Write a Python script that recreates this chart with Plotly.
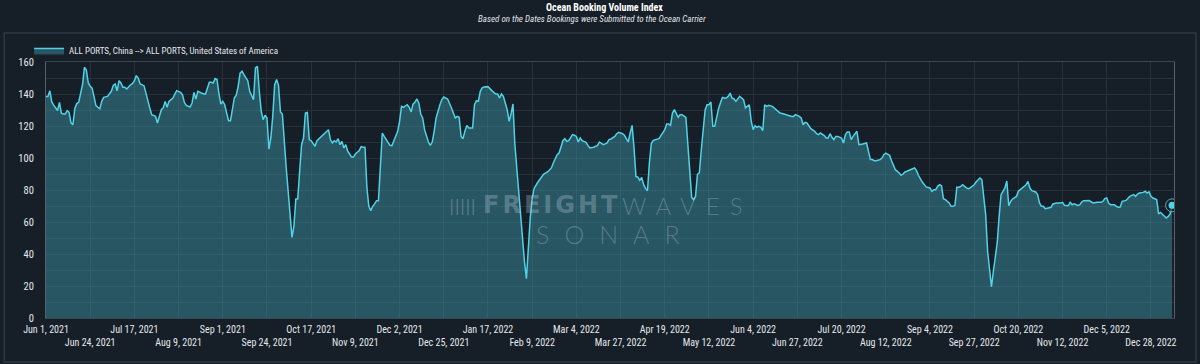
import pandas as pd
import plotly.graph_objects as go

# ---------------- data ----------------
start_date = "2021-06-01"
series_name = "ALL PORTS, China --> ALL PORTS, United States of America"

day_offset = [
    0, 1, 2, 3, 4, 5, 6, 7, 8, 9, 10, 11, 12, 13, 14, 15, 16, 17, 18, 19, 20, 21, 22, 23, 24, 25, 26, 27, 28, 29, 30,
    32, 33, 34, 35, 36, 37, 38, 39, 40, 41, 42, 44, 45, 46, 47, 48, 49, 51, 52, 53, 54, 55, 56, 57, 58, 59, 60,
    61, 62, 63, 64, 66, 67, 68, 70, 71, 72, 73, 75, 76, 77, 78, 79, 80, 82, 83, 84, 85, 86, 87, 88, 89, 90,
    91, 92, 93, 94, 95, 96, 97, 98, 99, 100, 101, 102, 103, 105, 106, 107, 108, 109, 110, 111, 112, 113, 114,
    115, 116, 117, 118, 119, 120, 121, 122, 123, 125, 128, 129, 130, 131, 132, 133, 134, 135, 136, 137, 138,
    139, 140, 141, 142, 144, 145, 146, 147, 148, 149, 150, 151, 152, 153, 154, 155, 156, 157, 158, 159, 160,
    161, 163, 164, 165, 166, 167, 168, 169, 170, 171, 172, 173, 174, 175, 176, 178, 179, 180, 181, 183, 184,
    185, 186, 188, 189, 190,
    191, 192, 193, 194, 195, 196, 197, 199, 200, 201, 202, 203, 205, 206, 207, 208, 209, 211, 212, 213, 214,
    215, 216, 217, 218, 219, 220, 222, 223, 224, 225, 226, 227, 228, 230, 231, 232, 233, 234, 235, 236, 237,
    238, 240, 241, 242, 243, 244, 246, 248, 249, 250, 251, 252, 253, 254, 256, 257, 258, 259, 261, 262, 263,
    264, 266, 267, 268, 269, 270, 271, 272, 274, 275, 276, 277, 278, 279, 281, 282, 283, 285, 286, 287, 288,
    290, 291, 292, 293, 294, 296, 297, 298, 300, 301, 302, 303, 304, 305, 306, 307, 308, 309, 310, 311, 312,
    313, 314, 315, 316, 317, 318, 319, 320, 322, 323, 324, 325, 326, 327, 328, 329, 330, 331, 333, 334, 335,
    336, 337, 338, 339, 340, 341, 342, 343, 344, 345, 346, 347, 348, 349, 350, 351, 352, 353, 354, 355, 356,
    357, 358, 359, 360, 361, 362, 363, 364, 365, 366, 367, 368, 369, 370, 371, 372, 373, 374, 375, 376, 378,
    379, 380, 381, 382, 384, 385, 386, 388, 389, 390, 392,
    393, 394, 395, 396, 397, 398, 400, 401, 402, 403, 405, 406, 407, 408, 409, 410, 411, 412, 414, 415, 416,
    417, 418, 419, 420, 422, 423, 424, 425, 427, 428, 429, 430, 431, 432, 434, 435, 436, 437, 439, 440, 441,
    442, 444, 445, 446, 447, 448, 449, 451, 452, 453, 454, 455, 456, 458, 459, 460, 461, 462, 463, 464, 465,
    466, 467, 468, 470, 471, 472, 473, 474, 475, 476, 477, 479, 480, 481, 483, 484, 485, 486, 487, 489, 490,
    491, 492, 493, 495, 496, 497, 499, 500, 501, 502, 503, 505, 506, 507, 508, 509, 510, 511, 512, 513, 515,
    516, 517, 518, 519, 520, 522, 523, 524, 526, 528, 529, 530, 532, 533, 534, 535, 537, 538, 539, 540, 542,
    543, 544, 545, 547, 549, 550, 551, 552, 553, 554, 556, 557, 558, 559, 560, 562, 563, 564, 566, 567, 568,
    569, 571, 572, 573, 574, 575, 576, 578, 579, 580, 581, 582, 583, 584, 585, 586,
]

booking_index = [
    138.5, 138.5, 142, 135, 133, 131.5, 129.7, 134.8, 128, 127.5, 127.5, 129.6, 128.5, 122, 120.8, 131, 134,
    134.8, 139.6, 145.8, 156.7, 155, 146.9, 144.8, 143.7, 137.5, 132.7, 131.7, 130.8, 135.4, 137.9,
    138.5, 140.2, 141.7, 145.4, 146.3, 142, 148.3, 146.9, 144.2, 144.2, 143.1, 145.8, 146.5, 148.3, 151.5,
    150, 146.3, 145.2, 140, 135.4, 131.3, 127.1, 126.5, 126, 121.9, 127.1, 130.2,
    131.3, 135.4, 131.7, 135.4, 137.5, 140, 142.1, 141, 139.6, 134.8, 132.9, 131.9, 134.4, 141, 136.9, 141.7,
    141, 140, 140, 143.7, 147.3, 147.3, 146.9, 149.6, 149, 140,
    133.7, 135.4, 133.3, 128.1, 123.3, 123.3, 131.3, 137.5, 139.2, 144.8, 153.1, 154.2, 152.1, 148.3, 141.7,
    139.2, 136.5, 156.3, 157.3, 141.7, 129.2, 124, 126.7,
    125, 105.6, 112.5, 126, 145.8, 149, 145.4, 128.8, 127.5, 94, 50.4, 57.3, 74.4, 74.4, 91.7, 108.3, 112.5,
    128.1, 128.5, 111.5, 110.8,
    109.4, 107.3, 110.8, 111.9, 114.6, 115.6, 116.3, 117.7, 111.5, 109.4, 110.8, 110, 112.1, 108.3, 110.4,
    106.3, 108.3, 104.2, 102.5, 100.6, 100.6,
    102.5, 104.6, 107.1, 106.7, 106.7, 81.3, 69.8, 67.1, 69.8, 71.3, 73.3, 73.3, 93.8, 115.6, 113.5, 110,
    107.9, 107.7, 110.8, 116.7, 122.9,
    132.3, 131.7, 133.3, 131.7, 128.8,
    133.7, 134.8, 136.9, 134.4, 127.5, 125, 117.7, 110, 107.9, 110, 116.7, 125, 133.3, 136.5, 138.1, 137.5,
    136.9, 131.3, 128.1, 125, 126,
    125.4, 113.5, 112.1, 116.7, 120.4, 118.8, 118.8, 133.3, 135.8, 135.4, 141.7, 143.8, 144.4, 144.6, 143.1,
    142.1, 141, 140, 140, 137.5, 140,
    138.5, 130.2, 122.9, 127.5, 133.8, 108.3, 77, 45, 35, 24.6, 48, 62.5, 75, 81, 85, 86.5, 87.9, 90, 91.3,
    92.7, 93.8,
    96.9, 102.1, 103.1, 107.9, 110.8, 112.1, 110.4, 110.8, 114.6, 114.2, 113.5, 110, 112.5, 110.8, 109.8,
    107.9, 106.3, 106.7, 107.3, 107.9, 110,
    108.3, 108.8, 109.4, 111.5, 111.9, 113.5, 115.2, 116, 115.2, 114.2, 112.1, 110, 115.6, 120.4, 106.3, 88.5,
    88, 86, 87.9, 83.3, 81,
    79.6, 97, 109, 111, 111.5, 112.1, 112.1, 114, 117.7, 121.3, 121.3, 120.4, 128.1, 130.2, 128.1, 125.4,
    127.1, 127.1, 125.4, 108.3, 92.7,
    75.4, 74, 76, 89.8, 90.8, 105, 118, 130, 133.3, 133.3, 135, 119.8, 119.8, 126, 131, 134.5, 137.9, 137.5,
    137.5, 138.5, 140.6,
    137.5, 136.9, 135.4, 137, 138.5, 137.5, 136.5, 131.3, 132.3, 133.3, 122.9, 117.7, 120.2, 119.2, 119.8,
    119.2, 117.1, 133.3, 132.3, 132.9, 132.3,
    131.3, 130.6, 129.6, 128.1, 127.5, 127.1, 126.7, 126, 126, 127.1, 126,
    125, 120.8, 122.3, 121.9, 119.8, 118.3, 116.7, 115.2, 114.6, 115.6, 114, 112.5, 112.5, 115.2, 112.9,
    111.5, 113.5, 113.5, 112.5, 109.4, 114.6,
    116.3, 116.3, 111.5, 113.5, 116.7, 108.3, 108.8, 108.8, 109.4, 104.2, 99, 99, 98.3, 98.3, 99, 100, 102.1,
    103.1, 101.7, 98.3, 95.8,
    92.7, 90.6, 89.2, 90, 91.3, 91.7, 92.1, 93.3, 93.8, 92.1, 89.2, 86.9, 85, 81.9, 81.7, 81.3, 79.2, 80.2,
    80.2, 82.3, 83.3,
    82.7, 74.6, 74, 71.9, 69.8, 69.8, 70.4, 81.7, 81.7, 82.3, 83.3, 81.3, 80.8, 81.3, 83.3, 85, 86.5, 87.5,
    86.5, 64.6, 41.7,
    29.2, 19.4, 29.2, 46.9, 63.5, 77.1, 81.3, 85.6, 70.2, 72.9, 74.4, 76, 79.2, 80.2, 81.7, 82.3, 83.3, 85.4,
    81.3, 79.6, 78.8,
    77.1, 71.9, 69.8, 69.8, 68.3, 68.8, 69.2, 71.3, 71.9, 71.9, 72.3, 70.4, 70.2, 72.3, 70.8, 71.3, 70.4,
    70.8, 72.5, 73.3, 73.5,
    73.5, 72.5, 71.9, 72.3, 72.3, 72.9, 74.6, 75, 71.9, 70.8, 70.8, 69.8, 69.2, 69.4, 72.9, 73.5, 74.6, 76,
    77.1, 76, 77.5,
    78.1, 78.5, 79.2, 78.1, 78.8, 76, 75, 74, 65, 66, 65, 63.5, 62.5, 63.5, 65, 70.4,
]

tick_labels = [
    "Jun 1, 2021", "Jun 24, 2021", "Jul 17, 2021", "Aug 9, 2021", "Sep 1, 2021", "Sep 24, 2021",
    "Oct 17, 2021", "Nov 9, 2021", "Dec 2, 2021", "Dec 25, 2021", "Jan 17, 2022", "Feb 9, 2022",
    "Mar 4, 2022", "Mar 27, 2022", "Apr 19, 2022", "May 12, 2022", "Jun 4, 2022", "Jun 27, 2022",
    "Jul 20, 2022", "Aug 12, 2022", "Sep 4, 2022", "Sep 27, 2022", "Oct 20, 2022", "Nov 12, 2022",
    "Dec 5, 2022", "Dec 28, 2022",
]
y_ticks = [0, 20, 40, 60, 80, 100, 120, 140, 160]

title_text = "Ocean Booking Volume Index"
subtitle_text = "Based on the Dates Bookings were Submitted to the Ocean Carrier"

# ---------------- build ----------------
n = min(len(day_offset), len(booking_index))
base = pd.Timestamp(start_date)
dates = [base + pd.Timedelta(days=d) for d in day_offset[:n]]
vals = booking_index[:n]

tick_vals = [pd.Timestamp(pd.to_datetime(t, format="%b %d, %Y")) for t in tick_labels]
tick_text = [t if i % 2 == 0 else "<br>" + t for i, t in enumerate(tick_labels)]

BG = "#161e27"
LINE = "#4fd3e6"
GRID = "#27313b"
TXT = "#e4e8ec"
COND = "Roboto Condensed, Liberation Sans Narrow, DejaVu Sans Condensed, Roboto, sans-serif"

fig = go.Figure()
fig.add_trace(go.Scatter(
    x=dates, y=vals, mode="lines", name=series_name,
    line=dict(color=LINE, width=1.5),
    fill="tozeroy", fillcolor="rgba(58,142,159,0.50)",
))
fig.add_trace(go.Scatter(
    x=[dates[-1]], y=[vals[-1]], mode="markers", showlegend=False, hoverinfo="skip",
    marker=dict(size=13, color="rgba(22,30,39,0.55)", line=dict(color="#5aaebb", width=1)),
))
fig.add_trace(go.Scatter(
    x=[dates[-1]], y=[vals[-1]], mode="markers", showlegend=False, hoverinfo="skip",
    marker=dict(size=7, color=LINE),
))

x_end = base + pd.Timedelta(days=587)

fig.update_layout(
    width=1200, height=364,
    margin=dict(l=46, r=26, t=62, b=46),
    paper_bgcolor=BG, plot_bgcolor=BG,
    font=dict(family=COND, color=TXT, size=10),
    showlegend=True,
    legend=dict(
        orientation="h", x=-0.015, y=1.045, xanchor="left", yanchor="middle",
        font=dict(family=COND, size=9, color=TXT), bgcolor="rgba(0,0,0,0)",
        itemwidth=30,
    ),
    xaxis=dict(
        type="date", range=[base, x_end],
        tickvals=tick_vals, ticktext=tick_text,
        showgrid=True, gridcolor=GRID, gridwidth=1,
        showline=True, linecolor="#3a4550", mirror=True,
        ticks="", tickangle=0, ticklabelstandoff=2,
        tickfont=dict(family=COND, size=10, color=TXT),
        zeroline=False,
    ),
    yaxis=dict(
        range=[0, 160], tickvals=y_ticks,
        showgrid=True, gridcolor=GRID, gridwidth=1,
        minor=dict(dtick=10, showgrid=True, gridcolor=GRID, gridwidth=1),
        showline=True, linecolor="#55606b", mirror=True,
        ticks="", ticklabelstandoff=9,
        tickfont=dict(family=COND, size=10.5, color=TXT),
        zeroline=False,
    ),
)

# panel frame around the chart
fig.add_shape(
    type="rect", xref="paper", yref="paper",
    x0=-0.037, x1=1.0195, y0=-0.172, y1=1.113,
    line=dict(color="#2e3843", width=1.5), fillcolor="rgba(0,0,0,0)", layer="below",
)

# titles
fig.add_annotation(
    text="<b>" + title_text + "</b>", xref="paper", yref="paper",
    x=(604 - 46) / 1128, y=(318 - 7) / 256, xanchor="center", yanchor="middle",
    showarrow=False, font=dict(family=COND, size=10, color="#ffffff"),
)
fig.add_annotation(
    text="<i>" + subtitle_text + "</i>", xref="paper", yref="paper",
    x=(592 - 46) / 1128, y=(318 - 19) / 256, xanchor="center", yanchor="middle",
    showarrow=False, font=dict(family=COND, size=9, color="#e0e4e8"),
)

# watermark
WM = "rgba(190,205,215,0.33)"
fig.add_annotation(
    text="<span style='letter-spacing:3px'><b>FREIGHT</b></span>", xref="paper", yref="paper",
    x=(622 - 46) / 1128, y=(318 - 205) / 256, xanchor="right", yanchor="middle",
    showarrow=False, font=dict(family="DejaVu Sans", size=24, color=WM, weight=900),
)
fig.add_annotation(
    text="<span style='letter-spacing:10px'>WAVES</span>", xref="paper", yref="paper",
    x=(620 - 46) / 1128, y=(318 - 205) / 256, xanchor="left", yanchor="middle",
    showarrow=False, font=dict(family="Lato, Inter, sans-serif", size=24, color=WM, weight=300),
)
fig.add_annotation(
    text="<span style='letter-spacing:15px'>SONAR</span>", xref="paper", yref="paper",
    x=(534 - 46) / 1128, y=(318 - 234) / 256, xanchor="left", yanchor="middle",
    showarrow=False, font=dict(family="Lato, Inter, sans-serif", size=25, color=WM, weight=300),
)
fig.add_annotation(
    text="|||||", xref="paper", yref="paper",
    x=(462 - 46) / 1128, y=(318 - 205) / 256, xanchor="center", yanchor="middle",
    showarrow=False, font=dict(family="DejaVu Sans", size=16, color=WM),
)

fig.write_html(
    "out.html",
    config={"displayModeBar": False},
    post_script="document.body.style.margin='0px';document.body.style.background='" + BG + "';",
)
